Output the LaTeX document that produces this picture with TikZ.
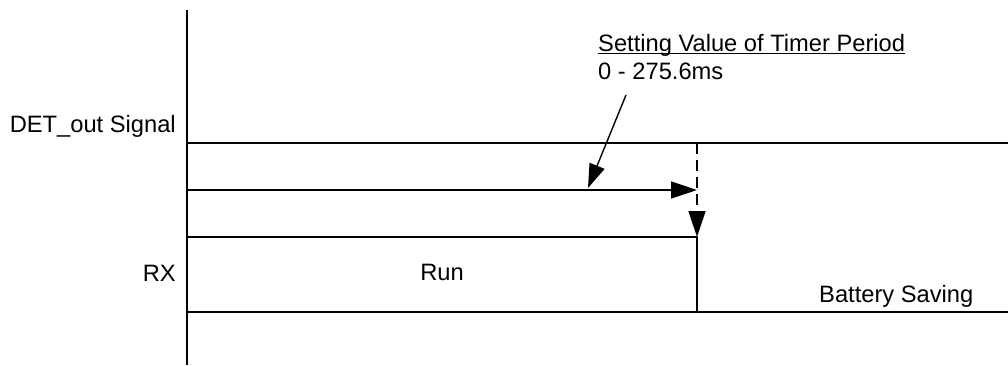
\documentclass[tikz,border=0pt]{standalone}
\usepackage{fontspec}
\setmainfont{Liberation Sans}
\usetikzlibrary{arrows.meta}
\begin{document}
\begin{tikzpicture}[x=1pt,y=-1pt,
  sig/.style={line width=1.6pt},
  bigtip/.style={-{Triangle[length=26pt,width=17pt]}},
  lbl/.style={inner sep=0pt,font=\fontsize{23.7}{28}\selectfont}]
\useasboundingbox (0,0) rectangle (1008,365);
% coordinates
\coordinate (axT) at (187,10);
\coordinate (axB) at (187,365);
\coordinate (h1L) at (187,143);
\coordinate (h1R) at (1008,143);
\coordinate (h2L) at (187,190);
\coordinate (h2R) at (697,190);
\coordinate (kT) at (697,143);
\coordinate (kB) at (697,237);
\coordinate (rTL) at (187,237);
\coordinate (rTR) at (697,237);
\coordinate (rBR) at (697,312);
\coordinate (rBL) at (187,312);
\coordinate (rBE) at (1008,312);
\coordinate (dS) at (626,95);
\coordinate (dE) at (588,188);
% axis and signals
\draw[sig] (axT) -- (axB);
\draw[sig] (h1L) -- (h1R);
\draw[sig,bigtip] (h2L) -- (h2R);
\draw[sig,bigtip,dash pattern=on 11pt off 6pt] (kT) -- (kB);
\draw[sig] (rTL) -- (rTR) -- (rBR);
\draw[sig] (rBL) -- (rBE);
\draw[line width=1.4pt,-{Triangle[length=24pt,width=16pt]}] (dS) -- (dE);
% labels
\node[lbl,anchor=base east] (det) at (176,132) {DET\_out Signal};
\node[lbl,anchor=base east] (rx) at (176,281) {RX};
\node[lbl,anchor=base] (run) at (442,280) {Run};
\node[lbl,anchor=base west] (bat) at (819,302) {Battery Saving};
\node[lbl,anchor=base west] (set) at (598,51) {Setting Value of Timer Period};
\draw[line width=1.3pt] ([yshift=-2.5pt]set.base west) -- ([yshift=-2.5pt]set.base east);
\node[lbl,anchor=base west] (rng) at (598,79) {0 - 275.6ms};
\end{tikzpicture}
\end{document}
